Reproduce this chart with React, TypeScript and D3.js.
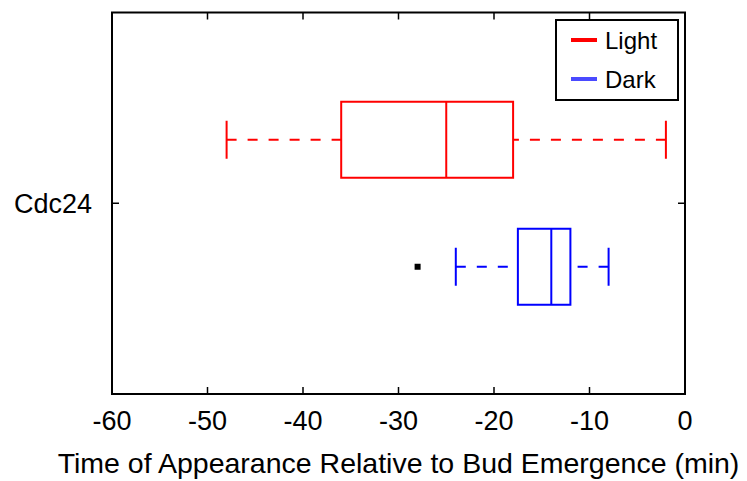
import React from 'react';
import * as d3 from 'd3';

const categories = ['Cdc24'];
const seriesNames = ['Light', 'Dark'];
const seriesColors = ['#ff0000', '#0000ff'];
const legendColors = ['#ff0000', '#4a4aff'];
const whiskerLow = [-48, -24];
const quartile1 = [-36, -17.5];
const medians = [-25, -14];
const quartile3 = [-18, -12];
const whiskerHigh = [-2, -8];
const outliers: number[][] = [[], [-28]];
const xTicks = [-60, -50, -40, -30, -20, -10, 0];
const xLabel = 'Time of Appearance Relative to Bud Emergence (min)';

const W = 747;
const H = 481;
const L = 112;
const R = 685;
const T = 12.5;
const B = 394;
const FONT = '"Liberation Sans", Arial, Helvetica, sans-serif';

export default function App() {
  const x = d3.scaleLinear().domain([-60, 0]).range([L, R]);
  const yCat = d3.scaleBand().domain(categories).range([T, B]);
  const ySer = d3.scalePoint().domain(seriesNames).range([-63.5, 63.5]);
  const boxH = 76;
  const capH = 38;
  const tickLen = 7;

  return (
    <svg width={W} height={H} style={{ position: 'absolute', left: 0, top: 0, background: '#fff' }}>
      <rect x={0} y={0} width={W} height={H} fill="#fff" />
      {/* boxes */}
      {categories.map((c) => {
        const cy0 = (yCat(c) as number) + yCat.bandwidth() / 2;
        return seriesNames.map((s, i) => {
          const cy = cy0 + (ySer(s) as number);
          const col = seriesColors[i];
          return (
            <g key={c + s} fill="none" stroke={col} strokeWidth={2}>
              <line x1={x(whiskerLow[i])} x2={x(quartile1[i])} y1={cy} y2={cy} strokeDasharray="10,11" />
              <line x1={x(whiskerHigh[i])} x2={x(quartile3[i])} y1={cy} y2={cy} strokeDasharray="10,11" />
              <line x1={x(whiskerLow[i])} x2={x(whiskerLow[i])} y1={cy - capH / 2} y2={cy + capH / 2} />
              <line x1={x(whiskerHigh[i])} x2={x(whiskerHigh[i])} y1={cy - capH / 2} y2={cy + capH / 2} />
              <rect x={x(quartile1[i])} y={cy - boxH / 2} width={x(quartile3[i]) - x(quartile1[i])} height={boxH} />
              <line x1={x(medians[i])} x2={x(medians[i])} y1={cy - boxH / 2} y2={cy + boxH / 2} />
              {outliers[i].map((o, j) => (
                <rect key={j} x={x(o) - 3} y={cy - 3} width={6} height={6} fill="#000" stroke="none" />
              ))}
            </g>
          );
        });
      })}
      {/* axes frame */}
      <rect x={L} y={T} width={R - L} height={B - T} fill="none" stroke="#000" strokeWidth={2} />
      {xTicks.map((t) => (
        <g key={t}>
          <line x1={x(t)} x2={x(t)} y1={B} y2={B - tickLen} stroke="#000" strokeWidth={1.5} />
          <line x1={x(t)} x2={x(t)} y1={T} y2={T + tickLen} stroke="#000" strokeWidth={1.5} />
          <text x={x(t)} y={430} textAnchor="middle" fontFamily={FONT} fontSize={27} fill="#000">
            {t}
          </text>
        </g>
      ))}
      {categories.map((c) => {
        const cy = (yCat(c) as number) + yCat.bandwidth() / 2;
        return (
          <g key={c}>
            <line x1={L} x2={L + tickLen} y1={cy} y2={cy} stroke="#000" strokeWidth={1.5} />
            <line x1={R} x2={R - tickLen} y1={cy} y2={cy} stroke="#000" strokeWidth={1.5} />
            <text x={92} y={cy + 10} textAnchor="end" fontFamily={FONT} fontSize={27} fill="#000">
              {c}
            </text>
          </g>
        );
      })}
      <text x={(L + R) / 2} y={473} textAnchor="middle" fontFamily={FONT} fontSize={28.5} fill="#000">
        {xLabel}
      </text>
      {/* legend */}
      <rect x={556} y={20} width={122} height={80} fill="#fff" stroke="#000" strokeWidth={2} />
      {seriesNames.map((s, i) => {
        const ly = 40 + i * 39;
        return (
          <g key={s}>
            <line x1={571} x2={597} y1={ly} y2={ly} stroke={legendColors[i]} strokeWidth={4} />
            <text x={605} y={ly + 8.5} fontFamily={FONT} fontSize={24} fill="#000">
              {s}
            </text>
          </g>
        );
      })}
    </svg>
  );
}
